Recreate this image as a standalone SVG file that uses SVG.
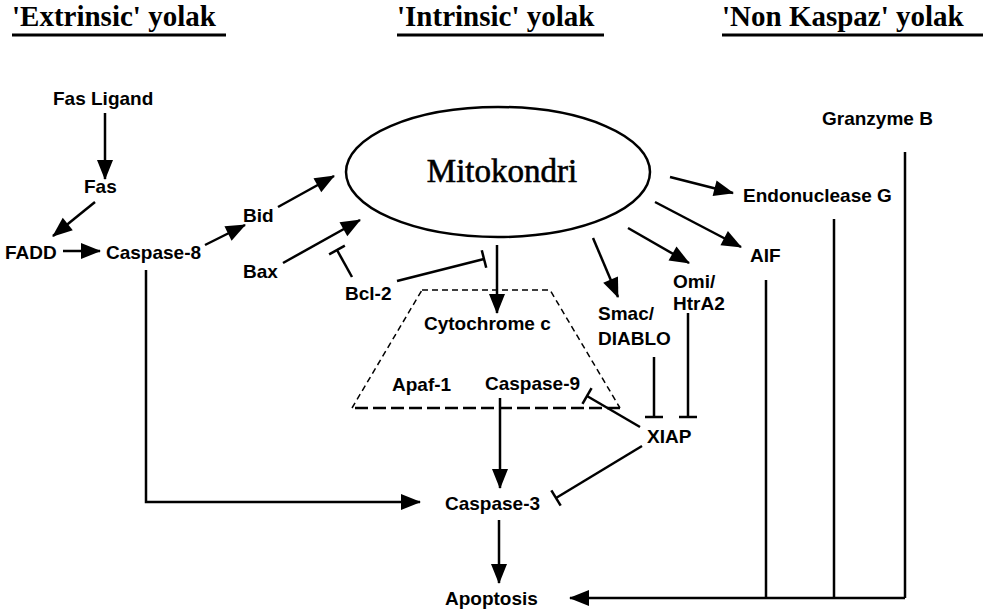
<svg xmlns="http://www.w3.org/2000/svg" width="990" height="616" viewBox="0 0 990 616">
<style>
.title{font-family:"Liberation Serif","Times New Roman",serif;font-weight:bold;font-size:29px;fill:#000}
.lbl{font-family:"Liberation Sans",Arial,sans-serif;font-weight:bold;font-size:19px;fill:#000}
.ul{stroke:#000;stroke-width:3}
.c{stroke:#000;stroke-width:2.5;fill:none}
.a{marker-end:url(#arr)}
.t{marker-end:url(#bar)}
</style>
<defs>
<marker id="arr" markerUnits="userSpaceOnUse" markerWidth="20" markerHeight="16" refX="19" refY="8" orient="auto" overflow="visible">
<path d="M0,0 L20,8 L0,16 z" fill="#000"/>
</marker>
<marker id="bar" markerUnits="userSpaceOnUse" markerWidth="4" markerHeight="20" refX="1" refY="10" orient="auto" overflow="visible">
<path d="M1,1 L1,19" stroke="#000" stroke-width="2.5"/>
</marker>
</defs>
<rect width="990" height="616" fill="#fff"/>
<g id="titles">
<text class="title" x="12" y="26">'Extrinsic' yolak</text>
<line class="ul" x1="12" y1="35" x2="226" y2="35"/>
<text class="title" x="397" y="26">'Intrinsic' yolak</text>
<line class="ul" x1="397" y1="35" x2="604" y2="35"/>
<text class="title" x="722" y="26">'Non Kaspaz' yolak</text>
<line class="ul" x1="722" y1="35" x2="983" y2="35"/>
</g>
<g id="connectors">
<line class="c a" x1="105" y1="113" x2="105" y2="179"/>
<line class="c a" x1="95" y1="202" x2="53" y2="236"/>
<line class="c a" x1="63" y1="251" x2="100" y2="251"/>
<line class="c a" x1="205" y1="245" x2="245" y2="225"/>
<line class="c a" x1="278" y1="207" x2="334" y2="176"/>
<line class="c a" x1="283" y1="263" x2="360" y2="220"/>
<line class="c t" x1="352" y1="277" x2="337" y2="250"/>
<line class="c t" x1="397" y1="281" x2="484" y2="259"/>
<line class="c a" x1="497" y1="245" x2="497" y2="313"/>
<line class="c a" x1="500" y1="398" x2="500" y2="488"/>
<polyline class="c a" points="146,270 146,502 420,502"/>
<line class="c a" x1="499" y1="520" x2="499" y2="583"/>
<line class="c a" x1="593" y1="238" x2="618" y2="297"/>
<line class="c a" x1="628" y1="228" x2="689" y2="263"/>
<line class="c a" x1="655" y1="202" x2="741" y2="247"/>
<line class="c a" x1="670" y1="177" x2="733" y2="193"/>
<line class="c t" x1="654" y1="357" x2="654" y2="417"/>
<line class="c t" x1="688" y1="313" x2="688" y2="417"/>
<line class="c t" x1="640" y1="427" x2="587" y2="396"/>
<line class="c t" x1="642" y1="446" x2="556" y2="498"/>
<line class="c" x1="905" y1="152" x2="905" y2="598"/>
<line class="c" x1="834" y1="219" x2="834" y2="598"/>
<line class="c" x1="766" y1="280" x2="766" y2="598"/>
<line class="c a" x1="905" y1="598" x2="570" y2="598"/>
</g>
<g id="mitokondri">
<ellipse cx="498" cy="172" rx="152" ry="65" fill="none" stroke="#000" stroke-width="2.5"/>
<text x="502" y="182" text-anchor="middle" font-family="Liberation Serif, Times New Roman, serif" font-size="33" fill="#000" stroke="#000" stroke-width="0.6">Mitokondri</text>
</g>
<g id="complex">
<path d="M422,290 L550,290 L620,408" fill="none" stroke="#000" stroke-width="1.5" stroke-dasharray="6 4"/>
<path d="M352,408 L422,290" fill="none" stroke="#000" stroke-width="1.5" stroke-dasharray="6 4"/>
<path d="M620,408 L352,408" fill="none" stroke="#000" stroke-width="2.5" stroke-dasharray="13 5"/>
</g>
<g id="fas-ligand"><text class="lbl" x="53" y="105">Fas Ligand</text></g>
<g id="fas"><text class="lbl" x="84" y="193">Fas</text></g>
<g id="fadd"><text class="lbl" x="5" y="259">FADD</text></g>
<g id="caspase-8"><text class="lbl" x="106" y="259">Caspase-8</text></g>
<g id="bid"><text class="lbl" x="243" y="222">Bid</text></g>
<g id="bax"><text class="lbl" x="243" y="278">Bax</text></g>
<g id="bcl-2"><text class="lbl" x="345" y="300">Bcl-2</text></g>
<g id="cytochrome-c"><text class="lbl" x="424" y="330">Cytochrome c</text></g>
<g id="apaf-1"><text class="lbl" x="392" y="391">Apaf-1</text></g>
<g id="caspase-9"><text class="lbl" x="485" y="390">Caspase-9</text></g>
<g id="smac"><text class="lbl" x="598" y="320">Smac/</text><text class="lbl" x="598" y="345">DIABLO</text></g>
<g id="omi"><text class="lbl" x="673" y="288">Omi/</text><text class="lbl" x="673" y="310">HtrA2</text></g>
<g id="aif"><text class="lbl" x="750" y="262">AIF</text></g>
<g id="endonuclease-g"><text class="lbl" x="743" y="202">Endonuclease G</text></g>
<g id="granzyme-b"><text class="lbl" x="822" y="125">Granzyme B</text></g>
<g id="xiap"><text class="lbl" x="647" y="443">XIAP</text></g>
<g id="caspase-3"><text class="lbl" x="445" y="510">Caspase-3</text></g>
<g id="apoptosis"><text class="lbl" x="445" y="605">Apoptosis</text></g>
</svg>
